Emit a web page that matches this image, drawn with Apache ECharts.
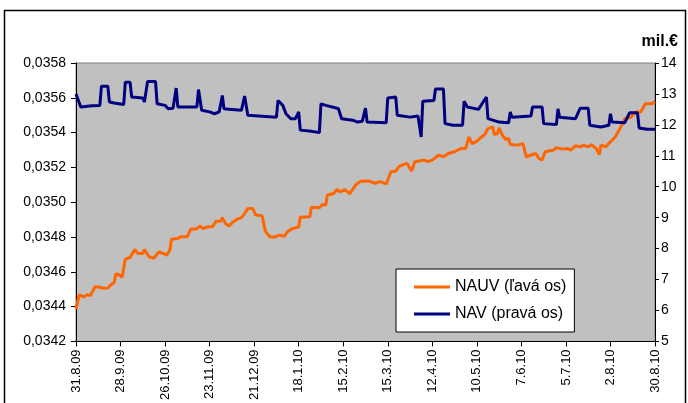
<!DOCTYPE html>
<html>
<head>
<meta charset="utf-8">
<script src="https://cdn.jsdelivr.net/npm/echarts@6/dist/echarts.min.js"></script>
<style>
html,body{margin:0;padding:0;background:#fff;}
#chart{width:688px;height:403px;}
</style>
</head>
<body>
<div id="chart"></div>
<script>
// X tick labels (every 28 days starting 31.8.09)
const tickLabels = ['31.8.09','28.9.09','26.10.09','23.11.09','21.12.09','18.1.10','15.2.10','15.3.10','12.4.10','10.5.10','7.6.10','5.7.10','2.8.10','30.8.10'];
const seriesNames = ['NAUV (ľavá os)', 'NAV (pravá os)'];

// NAUV (left axis) – day offsets from 31.8.09 and values
const nauvDays = [
  0, 2, 5, 7, 9, 12, 15, 17, 20, 22,
  24, 25, 27, 29, 31, 34, 37, 39, 42, 43,
  46, 49, 52, 55, 57, 59, 60, 64, 66, 70,
  72, 76, 78, 80, 82, 86, 88, 91, 92, 94,
  96, 99, 101, 104, 106, 108, 111, 113, 117, 119,
  120, 122, 125, 128, 131, 133, 136, 140, 141, 147,
  148, 153, 155, 157, 158, 162, 164, 166, 169, 172,
  173, 176, 179, 184, 188, 191, 195, 198, 201, 203,
  206, 208, 211, 213, 219, 221, 224, 228, 231, 234,
  238, 242, 245, 247, 249, 252, 255, 257, 259, 262,
  263, 265, 266, 268, 270, 272, 273, 278, 281, 283,
  287, 289, 291, 293, 295, 297, 300, 302, 306, 309,
  311, 314, 317, 319, 322, 324, 327, 329, 330, 333,
  336, 339, 342, 345, 349, 352, 355, 358, 362, 364
];
const nauvValues = [
  0.034387, 0.034469, 0.034454, 0.034469, 0.034463, 0.034514, 0.034511, 0.034505, 0.034507, 0.034526,
  0.034539, 0.034587, 0.034583, 0.034568, 0.034673, 0.034682, 0.034728, 0.034705, 0.034705, 0.034728,
  0.034686, 0.034678, 0.034714, 0.034705, 0.034695, 0.034724, 0.034787, 0.034791, 0.034802, 0.034802,
  0.034844, 0.034848, 0.034863, 0.034848, 0.034857, 0.034861, 0.034891, 0.034891, 0.034911, 0.034877,
  0.034863, 0.034888, 0.034901, 0.034911, 0.034934, 0.034964, 0.034964, 0.034926, 0.034922, 0.034834,
  0.034825, 0.034800, 0.034800, 0.034811, 0.034804, 0.034831, 0.034848, 0.034857, 0.034914, 0.034917,
  0.034971, 0.034968, 0.034987, 0.034983, 0.035040, 0.035050, 0.035073, 0.035059, 0.035073, 0.035048,
  0.035054, 0.035101, 0.035120, 0.035122, 0.035109, 0.035118, 0.035105, 0.035175, 0.035179, 0.035204,
  0.035217, 0.035223, 0.035179, 0.035233, 0.035242, 0.035233, 0.035242, 0.035271, 0.035261, 0.035280,
  0.035290, 0.035309, 0.035309, 0.035375, 0.035337, 0.035351, 0.035375, 0.035389, 0.035423, 0.035433,
  0.035389, 0.035394, 0.035427, 0.035385, 0.035362, 0.035366, 0.035331, 0.035328, 0.035337, 0.035261,
  0.035274, 0.035280, 0.035251, 0.035242, 0.035290, 0.035294, 0.035299, 0.035313, 0.035305, 0.035309,
  0.035299, 0.035324, 0.035318, 0.035328, 0.035318, 0.035331, 0.035309, 0.035274, 0.035328, 0.035318,
  0.035347, 0.035375, 0.035423, 0.035480, 0.035490, 0.035518, 0.035518, 0.035566, 0.035566, 0.035579
];

// NAV in mil. € (right axis)
const navDays = [
  0, 3, 10, 15, 16, 20, 21, 24, 25, 30,
  31, 34, 35, 42, 43, 44, 45, 50, 51, 56,
  58, 61, 63, 64, 76, 77, 79, 84, 87, 90,
  92, 93, 98, 104, 106, 108, 126, 127, 130, 132,
  135, 138, 140, 141, 148, 153, 154, 157, 161, 165,
  167, 174, 177, 180, 182, 183, 195, 196, 201, 202,
  210, 215, 217, 218, 225, 226, 231, 232, 237, 243,
  244, 246, 253, 258, 259, 266, 272, 273, 274, 286,
  287, 293, 294, 302, 303, 304, 314, 317, 322, 323,
  330, 335, 336, 337, 345, 348, 353, 354, 359, 364
];
const navValues = [
  13.00, 12.58, 12.62, 12.63, 13.25, 13.25, 12.74, 12.71, 12.66, 12.66,
  13.38, 13.38, 12.90, 12.87, 12.74, 12.75, 13.40, 13.40, 12.68, 12.63,
  12.52, 12.54, 13.19, 12.58, 12.58, 13.14, 12.47, 12.42, 12.36, 12.42,
  12.95, 12.52, 12.50, 12.47, 12.93, 12.31, 12.25, 12.79, 12.63, 12.36,
  12.20, 12.20, 12.42, 11.83, 11.79, 11.75, 12.68, 12.63, 12.58, 12.52,
  12.20, 12.15, 12.09, 12.12, 12.54, 12.09, 12.07, 12.87, 12.90, 12.31,
  12.25, 12.29, 11.61, 12.76, 12.79, 13.16, 13.16, 12.04, 11.99, 11.99,
  12.76, 12.58, 12.50, 12.90, 12.20, 12.09, 12.07, 12.42, 12.25, 12.29,
  12.58, 12.58, 12.04, 12.01, 12.52, 12.25, 12.20, 12.54, 12.54, 11.99,
  11.93, 11.99, 12.36, 12.09, 12.07, 12.39, 12.39, 11.90, 11.86, 11.86
];

const FONT = "'Liberation Sans', Arial, sans-serif";
const chart = echarts.init(document.getElementById('chart'), null, {renderer: 'canvas'});

const option = {
  animation: false,
  backgroundColor: '#ffffff',
  textStyle: {fontFamily: FONT},
  title: {
    text: 'mil.€',
    right: 5, top: 29,
    textStyle: {fontFamily: FONT, fontSize: 16, fontWeight: 'bold', color: '#000'}
  },
  graphic: [{
    type: 'rect', silent: true, z: -1,
    shape: {x: 4.5, y: 10.5, width: 681, height: 400},
    style: {fill: 'none', stroke: '#000', lineWidth: 1.5}
  }],
  grid: {
    left: 76, top: 63, width: 579, height: 280,
    show: true, backgroundColor: '#C0C0C0', borderColor: '#808080', borderWidth: 1
  },
  legend: {
    left: 396, top: 269,
    orient: 'vertical',
    backgroundColor: '#ffffff',
    borderColor: '#000', borderWidth: 1,
    padding: [10, 8, 10, 18],
    itemGap: 11,
    itemWidth: 36, itemHeight: 3,
    icon: 'rect',
    textStyle: {fontFamily: FONT, fontSize: 16, color: '#000', width: 134},
    data: seriesNames
  },
  xAxis: {
    type: 'value',
    min: 0, max: 364, interval: 28,
    axisLine: {show: true, onZero: false, lineStyle: {color: '#000', width: 1}},
    axisTick: {show: true, length: 5, lineStyle: {color: '#000'}},
    splitLine: {show: false},
    axisLabel: {
      rotate: 90, fontFamily: FONT, fontSize: 13, color: '#000', margin: 8,
      formatter: v => tickLabels[Math.round(v / 28)] || ''
    }
  },
  yAxis: [{
    type: 'value', position: 'left',
    min: 0.0342, max: 0.0358, interval: 0.0002,
    axisLine: {show: true, lineStyle: {color: '#000', width: 1}},
    axisTick: {show: true, length: 5, lineStyle: {color: '#000'}},
    splitLine: {show: false},
    axisLabel: {
      fontFamily: FONT, fontSize: 14, color: '#000', margin: 10,
      formatter: v => v.toFixed(4).replace('.', ',')
    }
  }, {
    type: 'value', position: 'right',
    min: 5, max: 14, interval: 1,
    axisLine: {show: true, lineStyle: {color: '#000', width: 1}},
    axisTick: {show: true, length: 4, lineStyle: {color: '#000'}},
    splitLine: {show: false},
    axisLabel: {fontFamily: FONT, fontSize: 14, color: '#000', margin: 6}
  }],
  series: [{
    name: seriesNames[0], type: 'line', yAxisIndex: 0,
    symbol: 'none', color: '#FF6600',
    lineStyle: {width: 3, color: '#FF6600'},
    data: nauvDays.map((d, i) => [d, nauvValues[i]])
  }, {
    name: seriesNames[1], type: 'line', yAxisIndex: 1,
    symbol: 'none', color: '#000080',
    lineStyle: {width: 3, color: '#000080'},
    data: navDays.map((d, i) => [d, navValues[i]])
  }]
};
chart.setOption(option);
</script>
</body>
</html>
